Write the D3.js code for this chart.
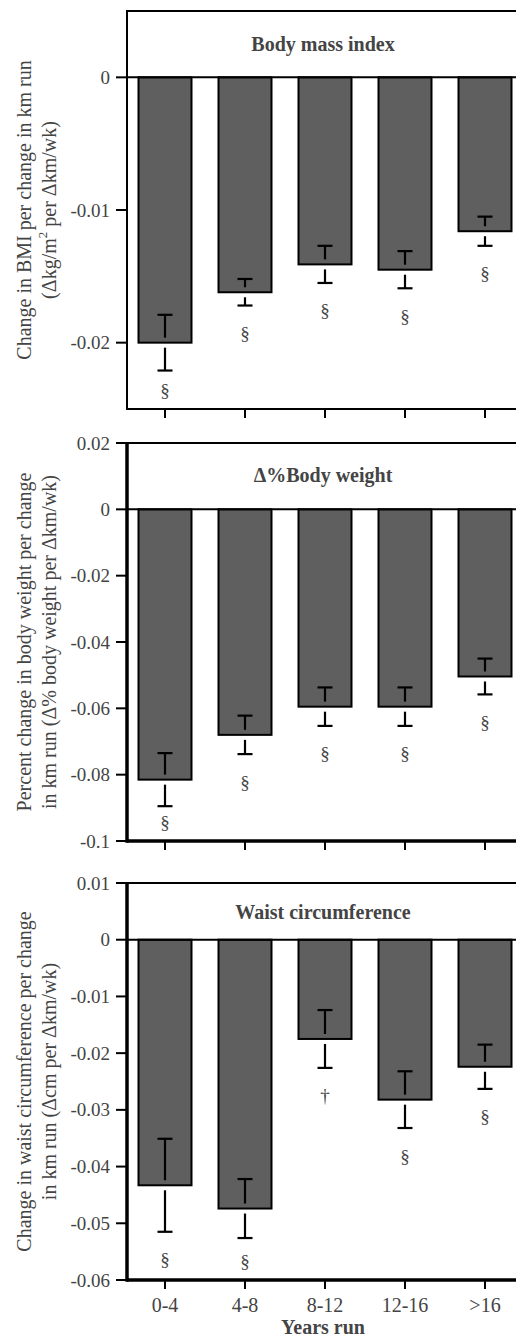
<!DOCTYPE html>
<html><head><meta charset="utf-8">
<script src="https://cdn.jsdelivr.net/npm/d3@7"></script>
<style>html,body{margin:0;padding:0;background:#fff;}svg{display:block;}</style>
</head><body>
<script>
const categories = ["0-4", "4-8", "8-12", "12-16", ">16"];

const bmiValues = [-0.0200, -0.0162, -0.0141, -0.0145, -0.0116];
const bmiErrors = [0.0021, 0.0010, 0.0014, 0.0014, 0.0011];
const bmiMarks = ["§", "§", "§", "§", "§"];
const bmiTicks = [0, -0.01, -0.02];

const weightValues = [-0.0815, -0.0680, -0.0595, -0.0595, -0.0504];
const weightErrors = [0.0080, 0.0058, 0.0058, 0.0058, 0.0054];
const weightMarks = ["§", "§", "§", "§", "§"];
const weightTicks = [0.02, 0, -0.02, -0.04, -0.06, -0.08, -0.1];

const waistValues = [-0.0433, -0.0474, -0.0175, -0.0282, -0.0224];
const waistErrors = [0.0082, 0.0052, 0.0051, 0.0050, 0.0039];
const waistMarks = ["§", "§", "†", "§", "§"];
const waistTicks = [0.01, 0, -0.01, -0.02, -0.03, -0.04, -0.05, -0.06];

const W = 516, H = 1339;
const svg = d3.select("body").append("svg").attr("width", W).attr("height", H);
const FONT = "'Liberation Serif'";
const TXT = "#444";

const x = d3.scalePoint().domain(categories).range([165, 485]);
const barW = 53;
const left = 127, right = 600;

function txt(sel) { return sel.style("font-family", FONT).attr("fill", TXT); }

function panel(cfg) {
  const g = svg.append("g");
  const y = d3.scaleLinear().domain(cfg.domain).range([cfg.bottom, cfg.top]);
  const rows = categories.map((c, i) => ({c, v: cfg.values[i], e: cfg.errors[i], m: cfg.marks[i]}));

  g.selectAll("rect.bar").data(rows).join("rect")
    .attr("x", d => x(d.c) - barW / 2)
    .attr("y", y(0))
    .attr("width", barW)
    .attr("height", d => y(d.v) - y(0))
    .attr("fill", "#5f5f5f")
    .attr("stroke", "#000")
    .attr("stroke-width", 2);

  const gap = 5, capW = 15;
  rows.forEach(d => {
    const yb = y(d.v), yu = y(d.v + d.e), yl = y(d.v - d.e);
    const cx = x(d.c);
    const segs = [];
    if (yb - gap - yu > 0) segs.push([yu, yb - gap]);
    if (yl - (yb + gap) > 0) segs.push([yb + gap, yl]);
    segs.forEach(s => g.append("line").attr("x1", cx).attr("x2", cx).attr("y1", s[0]).attr("y2", s[1])
      .attr("stroke", "#000").attr("stroke-width", 2.2));
    [yu, yl].forEach(yy => g.append("line").attr("x1", cx - capW / 2).attr("x2", cx + capW / 2)
      .attr("y1", yy).attr("y2", yy).attr("stroke", "#000").attr("stroke-width", 2.2));
    txt(g.append("text")).attr("x", cx).attr("y", Math.min(yl + 28, cfg.bottom - 19))
      .attr("dominant-baseline", "central").attr("text-anchor", "middle")
      .style("font-size", "19px").text(d.m);
  });

  g.append("line").attr("x1", left).attr("x2", right).attr("y1", y(0)).attr("y2", y(0))
    .attr("stroke", "#000").attr("stroke-width", 2);
  g.append("line").attr("x1", left).attr("x2", right).attr("y1", cfg.top).attr("y2", cfg.top)
    .attr("stroke", "#000").attr("stroke-width", 2);
  g.append("line").attr("x1", left).attr("x2", right).attr("y1", cfg.bottom).attr("y2", cfg.bottom)
    .attr("stroke", "#000").attr("stroke-width", cfg.thick);
  g.selectAll("line.xt").data(categories).join("line")
    .attr("x1", d => x(d)).attr("x2", d => x(d))
    .attr("y1", cfg.bottom).attr("y2", cfg.bottom + 9)
    .attr("stroke", "#000").attr("stroke-width", 2);
  g.append("line").attr("x1", left).attr("x2", left).attr("y1", cfg.top - 1).attr("y2", cfg.bottom + cfg.thick / 2)
    .attr("stroke", "#000").attr("stroke-width", cfg.thick);
  g.selectAll("line.yt").data(cfg.ticks).join("line")
    .attr("x1", left - 11).attr("x2", left).attr("y1", d => y(d)).attr("y2", d => y(d))
    .attr("stroke", "#000").attr("stroke-width", 2);
  txt(g.selectAll("text.yt").data(cfg.ticks).join("text"))
    .attr("x", left - 17).attr("y", d => y(d)).attr("dominant-baseline", "central")
    .attr("text-anchor", "end").style("font-size", "19px")
    .text(d => d === 0 ? "0" : String(d));

  txt(g.append("text")).attr("x", 323).attr("y", cfg.titleY).attr("text-anchor", "middle")
    .style("font-size", "20px").style("font-weight", "bold")
    .attr("dominant-baseline", "central").text(cfg.title);

  const cy = (cfg.top + cfg.bottom) / 2;
  const t = txt(g.append("text")).attr("transform", `translate(0,${cy}) rotate(-90)`)
    .attr("text-anchor", "middle").style("font-size", "20px");
  cfg.yTitle.forEach((line, i) => {
    const ts = t.append("tspan").attr("x", 0).attr("y", 24 + i * 25).attr("dominant-baseline", "central");
    if (Array.isArray(line)) {
      line.forEach(p => {
        const s = ts.append("tspan").text(p.t);
        if (p.sup) s.attr("baseline-shift", "super").style("font-size", "13px");
      });
    } else ts.text(line);
  });
  return y;
}

panel({
  domain: [-0.025, 0.005], top: 11, bottom: 409, thick: 2,
  values: bmiValues, errors: bmiErrors, marks: bmiMarks, ticks: bmiTicks,
  title: "Body mass index", titleY: 44,
  yTitle: ["Change in BMI per change in km run",
           [{t: "(Δkg/m"}, {t: "2", sup: true}, {t: " per Δkm/wk)"}]]
});

panel({
  domain: [-0.1, 0.02], top: 443, bottom: 841, thick: 3.5,
  values: weightValues, errors: weightErrors, marks: weightMarks, ticks: weightTicks,
  title: "Δ%Body weight", titleY: 475,
  yTitle: ["Percent change in body weight per change",
           "in km run (Δ% body weight per Δkm/wk)"]
});

panel({
  domain: [-0.06, 0.01], top: 883, bottom: 1280, thick: 3.5,
  values: waistValues, errors: waistErrors, marks: waistMarks, ticks: waistTicks,
  title: "Waist circumference", titleY: 912,
  yTitle: ["Change in waist circumference per change",
           "in km run (Δcm per Δkm/wk)"]
});

txt(svg.selectAll("text.xl").data(categories).join("text"))
  .attr("x", d => x(d)).attr("y", 1305).attr("dominant-baseline", "central")
  .attr("text-anchor", "middle").style("font-size", "20px")
  .text(d => d);
txt(svg.append("text")).attr("x", 323).attr("y", 1327).attr("dominant-baseline", "central")
  .attr("text-anchor", "middle").style("font-size", "20px").style("font-weight", "bold")
  .text("Years run");
</script>
</body></html>
